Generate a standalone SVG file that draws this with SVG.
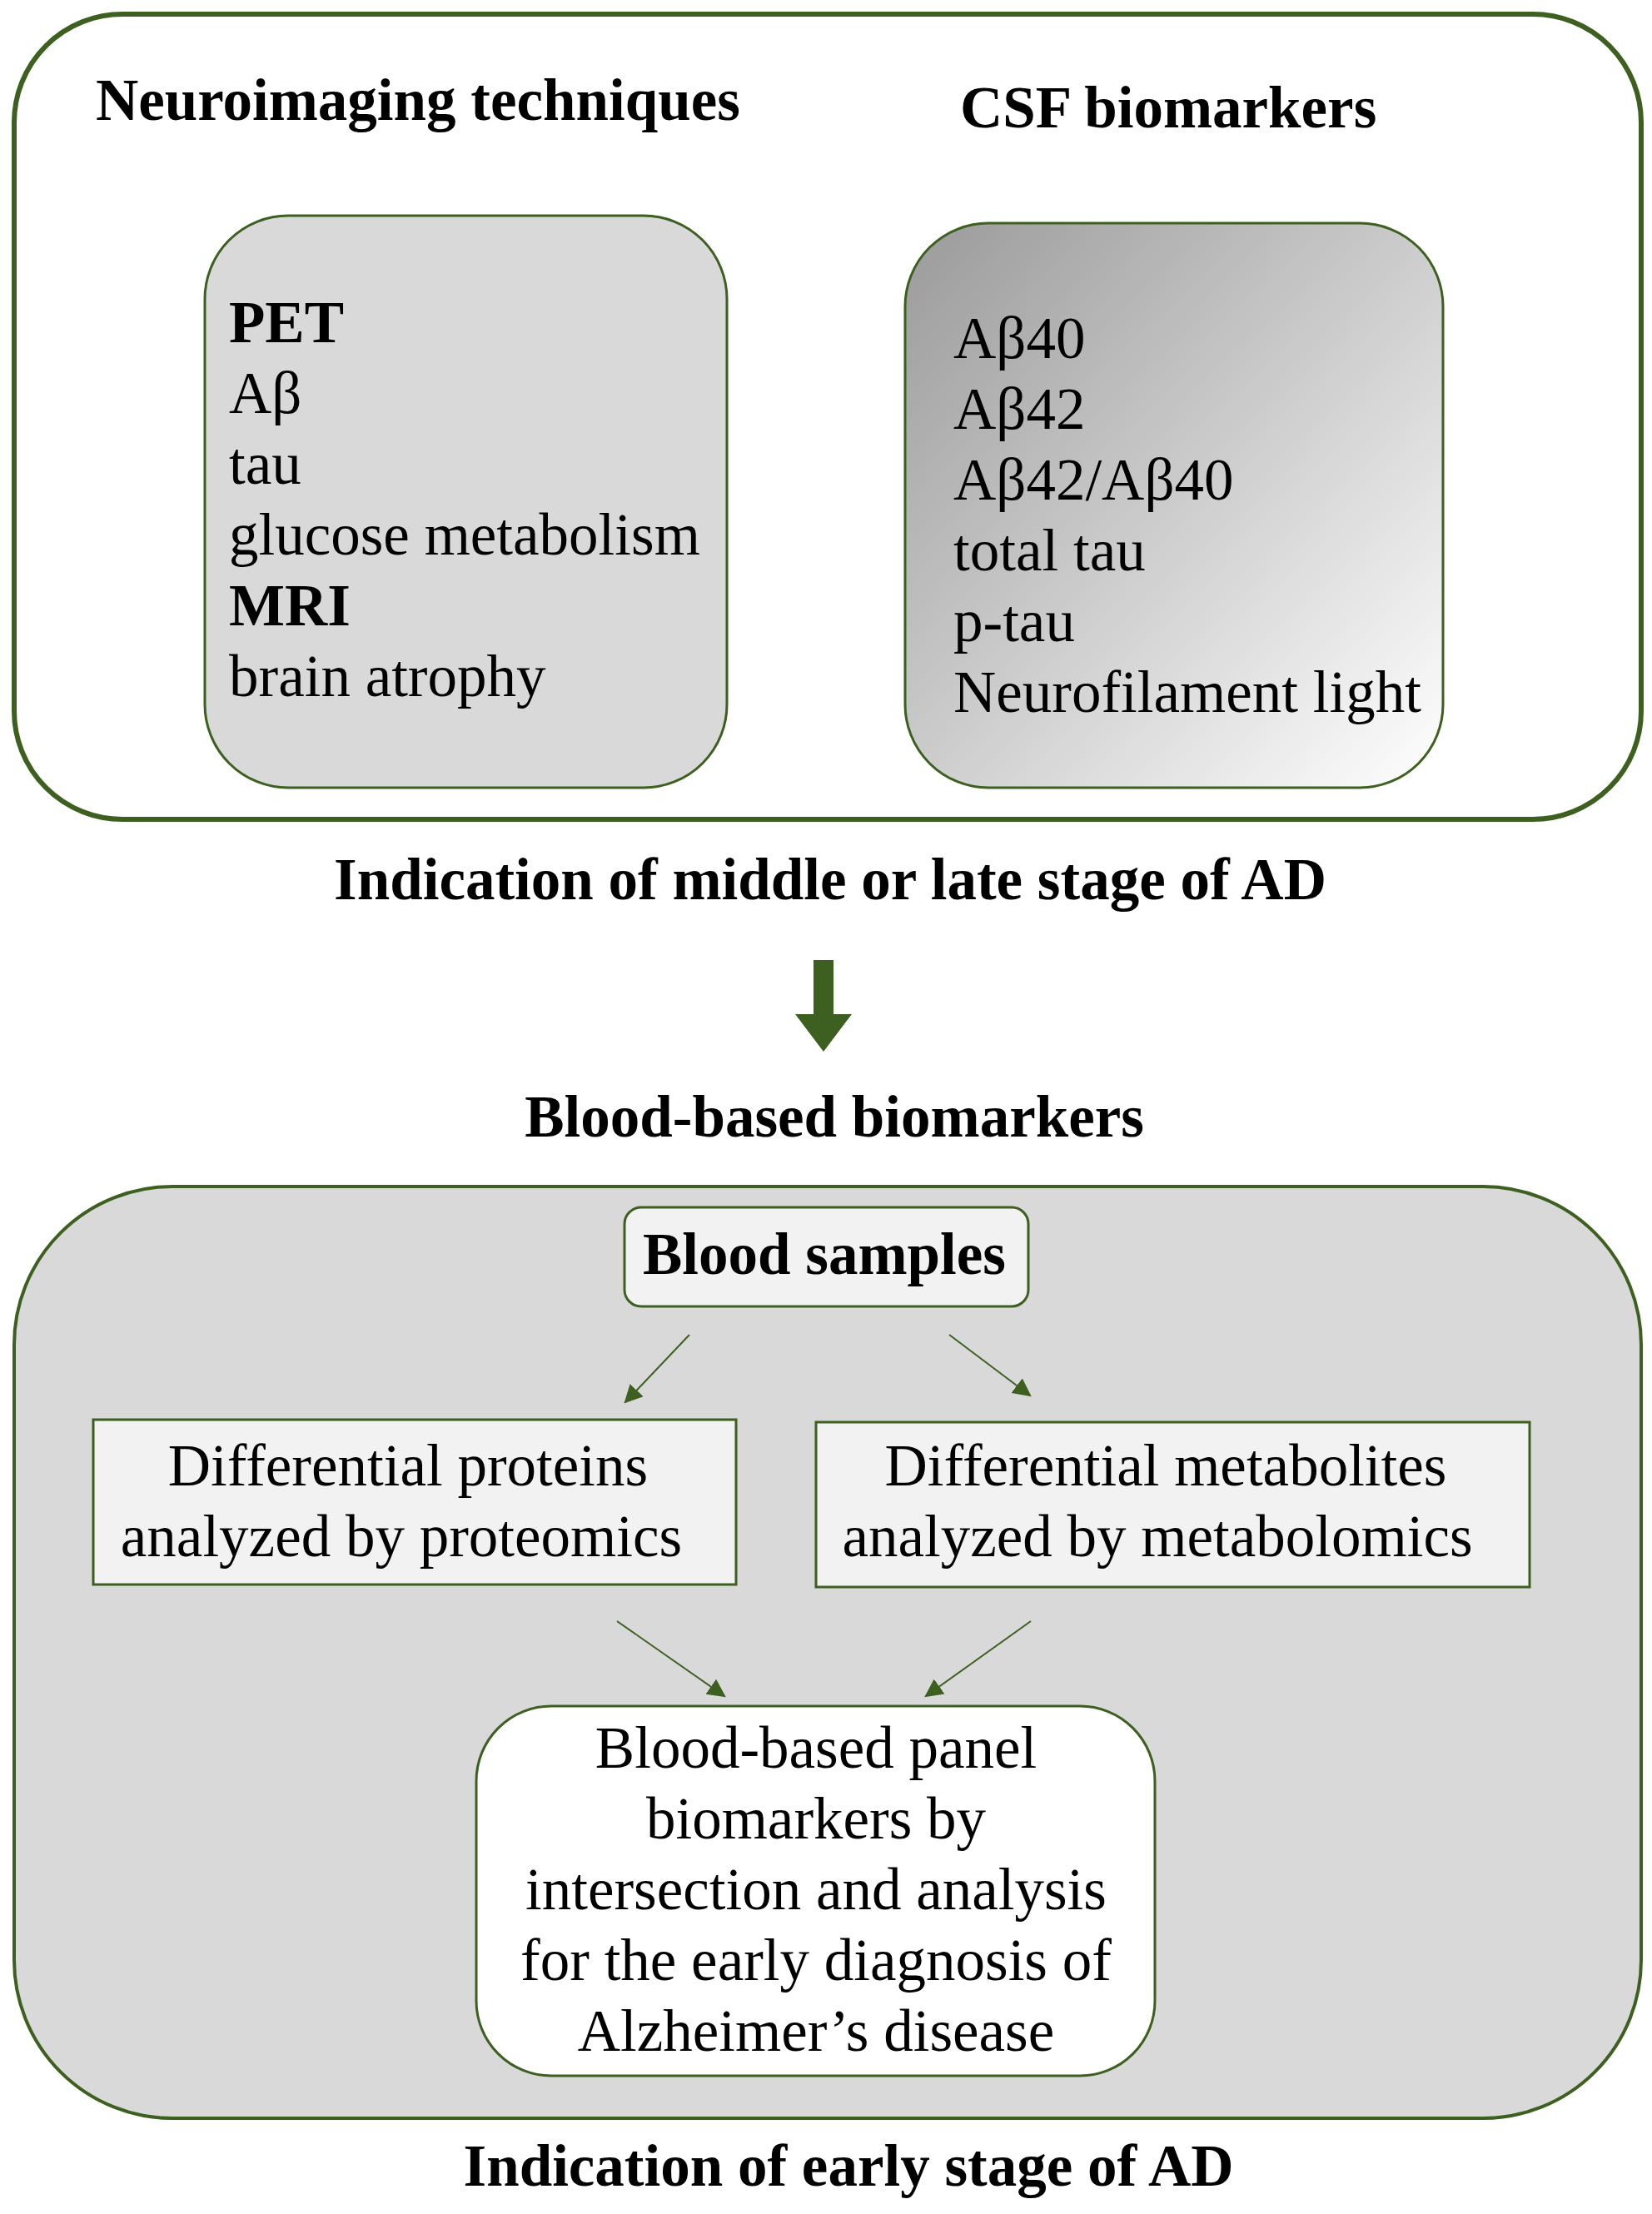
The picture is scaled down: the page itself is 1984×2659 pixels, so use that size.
<svg xmlns="http://www.w3.org/2000/svg" width="1984" height="2659" viewBox="0 0 1984 2659">
<style>
text{font-family:"Liberation Serif","Times New Roman",serif;fill:#000}
.h{font-weight:bold;font-size:71px}
.t{font-size:71px}
.g{stroke:#3d6020}
.c{stroke:#3d6020;stroke-width:2;fill:none}
</style>
<defs>
<linearGradient id="gr" x1="0" y1="0" x2="1" y2="1">
<stop offset="0" stop-color="#9a9a9a"/><stop offset="1" stop-color="#ffffff"/>
</linearGradient>
<marker id="ah2" viewBox="0 0 10 10" refX="9" refY="5" markerWidth="22" markerHeight="22" markerUnits="userSpaceOnUse" orient="auto">
<path d="M0,0 L10,5 L0,10 Z" fill="#3d6020"/>
</marker>
</defs>
<rect width="1984" height="2659" fill="#fff"/>
<g id="top">
<rect x="17" y="17" width="1954" height="967" rx="130" fill="#fff" class="g" stroke-width="6"/>
<text class="h" x="115" y="144" font-size="79">Neuroimaging techniques</text>
<text class="h" x="1153" y="153">CSF biomarkers</text>
</g>
<g id="neuro">
<rect x="246" y="259" width="627" height="687" rx="100" fill="#d9d9d9" class="g" stroke-width="3"/>
<text class="t" x="275" y="411"><tspan font-weight="bold">PET</tspan><tspan x="275" dy="85">Aβ</tspan><tspan x="275" dy="85">tau</tspan><tspan x="275" dy="85">glucose metabolism</tspan><tspan x="275" dy="85" font-weight="bold">MRI</tspan><tspan x="275" dy="85">brain atrophy</tspan></text>
</g>
<g id="csf">
<rect x="1087" y="268" width="646" height="678" rx="100" fill="url(#gr)" class="g" stroke-width="3"/>
<text class="t" x="1145" y="430">Aβ40<tspan x="1145" dy="85">Aβ42</tspan><tspan x="1145" dy="85">Aβ42/Aβ40</tspan><tspan x="1145" dy="85">total tau</tspan><tspan x="1145" dy="85">p-tau</tspan><tspan x="1145" dy="85">Neurofilament light</tspan></text>
</g>
<text class="h" x="997" y="1080" text-anchor="middle" font-size="86">Indication of middle or late stage of AD</text>
<g id="bigarrow">
<path d="M977,1153 H1001 V1218 H1023 L989,1263 L955,1218 H977 Z" fill="#3d6020"/>
</g>
<text class="h" x="1002" y="1365" text-anchor="middle" font-size="70">Blood-based biomarkers</text>
<g id="bottom">
<rect x="17" y="1425" width="1954" height="1119" rx="190" fill="#d9d9d9" class="g" stroke-width="4"/>
</g>
<g id="samples">
<rect x="750" y="1450" width="485" height="119" rx="20" fill="#f2f2f2" class="g" stroke-width="3"/>
<text class="h" x="990" y="1530" text-anchor="middle">Blood samples</text>
</g>
<g id="proteins">
<rect x="112" y="1705" width="772" height="198" fill="#f2f2f2" class="g" stroke-width="3"/>
<text class="t" x="490" y="1784" text-anchor="middle">Differential proteins<tspan x="482" dy="85">analyzed by proteomics</tspan></text>
</g>
<g id="metabolites">
<rect x="980" y="1708" width="857" height="198" fill="#f2f2f2" class="g" stroke-width="3"/>
<text class="t" x="1400" y="1784" text-anchor="middle">Differential metabolites<tspan x="1390" dy="85">analyzed by metabolomics</tspan></text>
</g>
<g id="panel">
<rect x="572" y="2049" width="815" height="444" rx="90" fill="#fff" class="g" stroke-width="3"/>
<text class="t" x="980" y="2123" text-anchor="middle">Blood-based panel<tspan x="980" dy="85">biomarkers by</tspan><tspan x="980" dy="85">intersection and analysis</tspan><tspan x="980" dy="85">for the early diagnosis of</tspan><tspan x="980" dy="85">Alzheimer’s disease</tspan></text>
</g>
<g id="connectors">
<line class="c" x1="828" y1="1603" x2="751" y2="1684" marker-end="url(#ah2)"/>
<line class="c" x1="1140" y1="1603" x2="1237" y2="1676" marker-end="url(#ah2)"/>
<line class="c" x1="741" y1="1947" x2="870" y2="2037" marker-end="url(#ah2)"/>
<line class="c" x1="1238" y1="1947" x2="1112" y2="2037" marker-end="url(#ah2)"/>
</g>
<text class="h" x="1019" y="2625" text-anchor="middle" font-size="86">Indication of early stage of AD</text>
</svg>
